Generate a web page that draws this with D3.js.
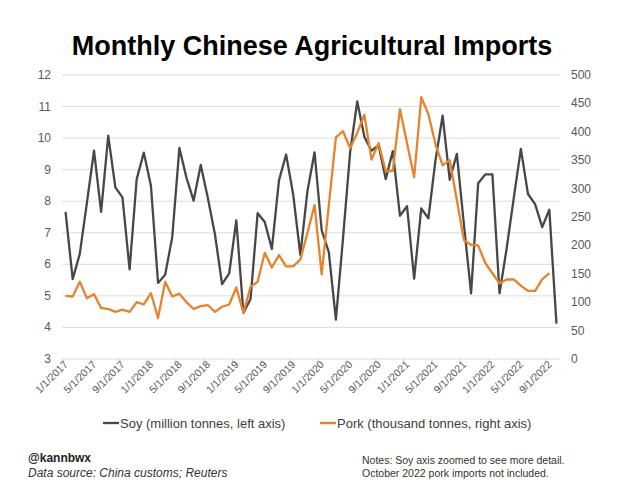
<!DOCTYPE html>
<html><head><meta charset="utf-8">
<script src="https://cdn.jsdelivr.net/npm/d3@7"></script>
<style>body{margin:0;background:#fff}svg{display:block}text{font-family:Arial,"Liberation Sans",sans-serif}</style>
</head><body>
<svg id="c" width="630" height="498"></svg>
<script>
const months = d3.range(70).map(i => { const y = 2017 + Math.floor(i/12), m = i%12 + 1; return m + "/1/" + y; });
const soy = [7.66,5.53,6.33,7.95,9.60,7.66,10.08,8.44,8.12,5.84,8.70,9.54,8.49,5.41,5.67,6.87,9.69,8.74,8.02,9.15,8.10,6.95,5.37,5.71,7.39,4.46,4.90,7.62,7.34,6.49,8.66,9.48,8.21,6.30,8.32,9.55,7.08,6.39,4.25,6.82,9.55,11.16,10.04,9.60,9.78,8.70,9.59,7.54,7.84,5.55,7.77,7.46,9.30,10.71,8.68,9.50,7.25,5.08,8.57,8.85,8.85,5.08,6.50,8.10,9.66,8.23,7.91,7.18,7.73,4.12];
const pork = [111,110,136,107,114,90,88,83,87,83,100,96,116,72,136,110,115,100,88,93,95,83,92,96,126,81,127,136,187,161,183,163,163,175,222,271,149,270,390,401,371,398,430,351,380,331,331,440,380,320,461,431,378,341,350,280,209,201,200,169,151,133,140,140,129,120,120,140,151];
const leftTicks = [3,4,5,6,7,8,9,10,11,12];
const rightTicks = [0,50,100,150,200,250,300,350,400,450,500];
const title = "Monthly Chinese Agricultural Imports";
const seriesNames = ["Soy (million tonnes, left axis)", "Pork (thousand tonnes, right axis)"];
const colors = ["#474747", "#e6832f"];

const svg = d3.select("#c");
const L = 62, R = 560, T = 75, B = 359;
const x = d3.scaleBand().domain(d3.range(months.length)).range([L, R]);
const cx = i => x(i) + x.bandwidth()/2;
const yL = d3.scaleLinear().domain([3,12]).range([B,T]);
const yR = d3.scaleLinear().domain([0,500]).range([B,T]);

svg.append("text").attr("x", 312).attr("y", 55).attr("text-anchor","middle")
  .attr("font-size", 27).attr("font-weight","bold").attr("fill","#000").text(title);

// gridlines
svg.append("g").selectAll("line").data(leftTicks).join("line")
  .attr("x1", L).attr("x2", R).attr("y1", d => yL(d)).attr("y2", d => yL(d))
  .attr("stroke", "#dcdcdc").attr("stroke-width", 1);

// left axis labels
svg.append("g").selectAll("text").data(leftTicks).join("text")
  .attr("x", 51).attr("y", d => yL(d) + 4).attr("text-anchor","end")
  .attr("font-size", 12).attr("fill","#595959").text(d => d);
// right axis labels
svg.append("g").selectAll("text").data(rightTicks).join("text")
  .attr("x", 571).attr("y", d => yR(d) + 4).attr("text-anchor","start")
  .attr("font-size", 12).attr("fill","#595959").text(d => d);

// x ticks & labels
const tickIdx = d3.range(0, months.length, 4);
svg.append("g").selectAll("line").data(tickIdx).join("line")
  .attr("x1", d => x(d)).attr("x2", d => x(d)).attr("y1", B).attr("y2", B + 4)
  .attr("stroke", "#d0d0d0");
svg.append("g").selectAll("text").data(tickIdx).join("text")
  .attr("transform", d => `translate(${cx(d)+3},${B+6}) rotate(-45)`)
  .attr("text-anchor","end").attr("font-size", 10.5).attr("fill","#595959")
  .text(d => months[d]);

// lines
const soyLine = d3.line().x((d,i) => cx(i)).y(d => yL(d));
const porkLine = d3.line().x((d,i) => cx(i)).y(d => yR(d));
svg.append("path").attr("d", soyLine(soy)).attr("fill","none")
  .attr("stroke", colors[0]).attr("stroke-width", 2.3).attr("stroke-linejoin","round");
svg.append("path").attr("d", porkLine(pork)).attr("fill","none")
  .attr("stroke", colors[1]).attr("stroke-width", 2.3).attr("stroke-linejoin","round");

// legend
const leg = [{x:103, t:seriesNames[0], c:colors[0]}, {x:320, t:seriesNames[1], c:colors[1]}];
const lg = svg.append("g").selectAll("g").data(leg).join("g");
lg.append("line").attr("x1", d => d.x).attr("x2", d => d.x + 16).attr("y1", 423).attr("y2", 423)
  .attr("stroke", d => d.c).attr("stroke-width", 2.3);
lg.append("text").attr("x", d => d.x + 17).attr("y", 428).attr("font-size", 13).attr("fill","#404040").text(d => d.t);

// footer
svg.append("text").attr("x", 28).attr("y", 462).attr("font-size", 12).attr("font-weight","bold").attr("fill","#222").text("@kannbwx");
svg.append("text").attr("x", 28).attr("y", 477).attr("font-size", 12).attr("font-style","italic").attr("fill","#333").text("Data source: China customs; Reuters");
svg.append("text").attr("x", 362).attr("y", 464).attr("font-size", 10.5).attr("fill","#333").text("Notes: Soy axis zoomed to see more detail.");
svg.append("text").attr("x", 362).attr("y", 477).attr("font-size", 10.5).attr("fill","#333").text("October 2022 pork imports not included.");
</script>
</body></html>
